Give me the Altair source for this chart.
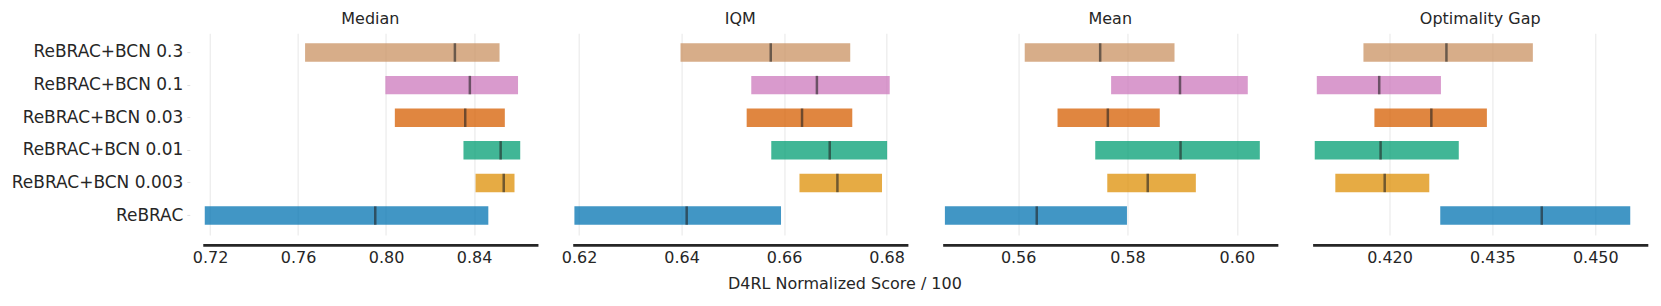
import altair as alt
import pandas as pd

methods = ["ReBRAC+BCN 0.3", "ReBRAC+BCN 0.1", "ReBRAC+BCN 0.03",
           "ReBRAC+BCN 0.01", "ReBRAC+BCN 0.003", "ReBRAC"]
colors = ["#ca9161", "#cc78bc", "#d55e00", "#029e73", "#de8f05", "#0173b2"]

metrics = ["Median", "IQM", "Mean", "Optimality Gap"]

median_lo = [0.7632, 0.7997, 0.8040, 0.8352, 0.8407, 0.7176]
median_hi = [0.8516, 0.8600, 0.8540, 0.8610, 0.8584, 0.8465]
median_pt = [0.8313, 0.8381, 0.8360, 0.8521, 0.8535, 0.7951]

iqm_lo = [0.6398, 0.6536, 0.6527, 0.6575, 0.6630, 0.6191]
iqm_hi = [0.6729, 0.6806, 0.6733, 0.6801, 0.6791, 0.6594]
iqm_pt = [0.6574, 0.6664, 0.6635, 0.6689, 0.6704, 0.6410]

mean_lo = [0.5612, 0.5770, 0.5672, 0.5741, 0.5763, 0.5466]
mean_hi = [0.5886, 0.6020, 0.5859, 0.6042, 0.5925, 0.5799]
mean_pt = [0.5750, 0.5896, 0.5764, 0.5897, 0.5837, 0.5634]

og_lo = [0.4162, 0.4094, 0.4178, 0.4091, 0.4121, 0.4274]
og_hi = [0.4409, 0.4275, 0.4342, 0.4301, 0.4258, 0.4551]
og_pt = [0.4283, 0.4185, 0.4261, 0.4187, 0.4193, 0.4422]

domains = [[0.71669, 0.86906], [0.61877, 0.68415], [0.54619, 0.6075], [0.40879, 0.45766]]
tick_values = [[0.72, 0.76, 0.80, 0.84], [0.62, 0.64, 0.66, 0.68],
               [0.56, 0.58, 0.60], [0.420, 0.435, 0.450]]
tick_formats = [".2f", ".2f", ".2f", ".3f"]

series = [(median_lo, median_hi, median_pt), (iqm_lo, iqm_hi, iqm_pt),
          (mean_lo, mean_hi, mean_pt), (og_lo, og_hi, og_pt)]

FONT = "DejaVu Sans"
TXT = "#262626"
W = 335.6
H = 202

panels = []
for i, (metric, (lo, hi, pt)) in enumerate(zip(metrics, series)):
    df = pd.DataFrame({"method": methods, "lo": lo, "hi": hi, "pt": pt})
    common = dict(values=tick_values[i], format=tick_formats[i],
                  grid=True, gridColor="#ebebeb", gridWidth=1.2,
                  domainColor=TXT, domainWidth=2.6, offset=10,
                  ticks=False, labelPadding=5, labelFontSize=16,
                  labelColor=TXT, labelFont=FONT)
    if i == 1:
        xaxis = alt.Axis(title="D4RL Normalized Score / 100", titleX=272,
                         titleFontSize=16, titleFontWeight="normal", titleColor=TXT,
                         titleFont=FONT, titlePadding=10, **common)
    else:
        xaxis = alt.Axis(title=None, **common)
    x = alt.X("lo:Q", scale=alt.Scale(domain=domains[i], nice=False, zero=False), axis=xaxis)
    if i == 0:
        yaxis = alt.Axis(title=None, domain=False, grid=False, offset=13,
                         tickSize=3, tickColor="#e0e0e0", labelPadding=4,
                         labelFontSize=17, labelColor=TXT, labelFont=FONT)
    else:
        yaxis = None
    y = alt.Y("method:N", sort=methods,
              scale=alt.Scale(paddingInner=0.435, paddingOuter=0.31), axis=yaxis)
    color = alt.Color("method:N", scale=alt.Scale(domain=methods, range=colors), legend=None)
    bars = alt.Chart(df).mark_bar(opacity=0.75, cornerRadius=0).encode(
        x=x, x2="hi:Q", y=y, color=color)
    ticks = alt.Chart(df).mark_tick(color="#222222", opacity=0.6, thickness=2.5, size=18.5).encode(
        x=alt.X("pt:Q"), y=alt.Y("method:N", sort=methods))
    panel = alt.layer(bars, ticks).properties(
        width=W, height=H,
        title=alt.TitleParams(metric, fontSize=16, fontWeight="normal", color=TXT,
                              font=FONT, offset=6))
    panels.append(panel)

chart = alt.hconcat(*panels, spacing=34.4, bounds="flush").properties(
    padding={"left": 3, "top": 3, "right": 5, "bottom": 5}
).configure_view(stroke=None).configure_title(anchor="middle")

chart.save("out.html", embed_options={"renderer": "svg", "actions": False})
